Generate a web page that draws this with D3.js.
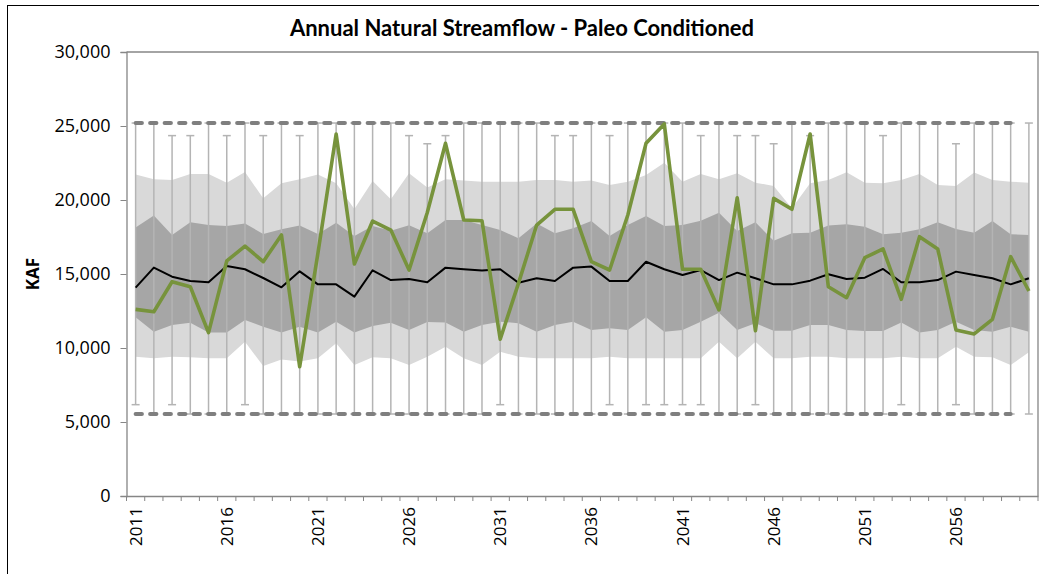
<!DOCTYPE html>
<html>
<head>
<meta charset="utf-8">
<script src="https://cdn.jsdelivr.net/npm/d3@7"></script>
<style>
  body { margin: 0; background: #fff; }
  svg { display: block; }
  text { font-family: "Open Sans", Lato, sans-serif; fill: #000; }
</style>
</head>
<body>
<svg id="chart" width="1039" height="574"></svg>
<script>
// years 2011 - 2060
let years = d3.range(2011, 2061);
let yearLabels = [2011, 2016, 2021, 2026, 2031, 2036, 2041, 2046, 2051, 2056];
let yTicks = [0, 5000, 10000, 15000, 20000, 25000, 30000];

// percentile bands, KAF
let lightUpper = [21730, 21400, 21350, 21760, 21760, 21170, 21890, 20110, 21130, 21400,
  21730, 21130, 19390, 21280, 20050, 21800, 20850, 21400, 21310, 21240,
  21240, 21240, 21350, 21350, 21240, 21310, 21010, 21240, 21690, 22520,
  21240, 21760, 21400, 21800, 21170, 20950, 19440, 21130, 21350, 21870,
  21170, 21130, 21350, 21760, 21010, 20950, 21850, 21350, 21240, 21170];
let darkUpper = [18150, 18960, 17640, 18490, 18310, 18240, 18420, 17700, 18020, 18270,
  17700, 18470, 17570, 18240, 17930, 18290, 17750, 18650, 18650, 18310,
  17970, 17410, 18420, 17750, 18090, 18580, 17570, 18310, 18920, 18240,
  18310, 18600, 19140, 17900, 18490, 17250, 17750, 17790, 18270, 18360,
  18200, 17680, 17790, 18020, 18490, 18040, 17790, 18580, 17680, 17640];
let median = [14080, 15430, 14820, 14530, 14440, 15540, 15320, 14730, 14100, 15180,
  14300, 14300, 13470, 15250, 14590, 14660, 14440, 15430, 15320, 15230,
  15320, 14410, 14710, 14530, 15430, 15500, 14530, 14530, 15830, 15320,
  14930, 15270, 14590, 15090, 14710, 14300, 14300, 14550, 14980, 14660,
  14750, 15340, 14440, 14440, 14590, 15160, 14930, 14710, 14300, 14710];
let darkLower = [12070, 11100, 11550, 11710, 11040, 11040, 11890, 11440, 11040, 11440,
  11040, 11780, 11040, 11490, 11710, 11220, 11760, 11730, 11100, 11550,
  11780, 11670, 11100, 11550, 11780, 11220, 11330, 11220, 12070, 11100,
  11220, 11780, 12390, 11220, 11670, 11170, 11170, 11550, 11550, 11220,
  11150, 11150, 11730, 11040, 11220, 11780, 11220, 11100, 11440, 11100];
let lightLower = [9410, 9300, 9410, 9370, 9300, 9300, 10430, 8780, 9230, 9080,
  9300, 10320, 8850, 9370, 9300, 8850, 9410, 10090, 9300, 8850,
  9750, 9410, 9300, 9300, 9300, 9300, 9410, 9300, 9300, 9300,
  9300, 9300, 10430, 9300, 10430, 9300, 9300, 9410, 9410, 9300,
  9300, 9300, 9410, 9300, 9300, 10090, 9410, 9370, 8850, 9710];

// one paleo trace
let trace = [12610, 12450, 14480, 14140, 11040, 15880, 16890, 15830, 17640, 8740,
  16400, 24460, 15680, 18580, 17970, 15270, 19150, 23830, 18650, 18600,
  10590, 14370, 18310, 19370, 19370, 15830, 15270, 18990, 23830, 25140,
  15320, 15320, 12570, 20150, 11170, 20110, 19370, 24460, 14140, 13400,
  16100, 16690, 13290, 17520, 16690, 11220, 10950, 11940, 16170, 13850];

// yearly max / min
let yearMax = [25200, 25200, 24350, 24350, 25200, 24350, 25200, 24350, 25200, 24350,
  25200, 25200, 25200, 25200, 25200, 24350, 23800, 24350, 25200, 25200,
  25200, 25200, 25200, 24350, 24350, 25200, 24350, 25200, 25200, 25200,
  25200, 24350, 25200, 24350, 24350, 23800, 25200, 24350, 25200, 25200,
  25200, 24350, 25200, 25200, 25200, 23800, 25200, 25200, 25200, 25200];
let yearMin = [6170, 5540, 6170, 5540, 5540, 5540, 6170, 5540, 5540, 5540,
  5540, 5540, 5540, 5540, 5540, 5540, 5540, 5540, 5540, 5540,
  6170, 5540, 5540, 5540, 5540, 5540, 6170, 5540, 6170, 6170,
  6170, 6170, 5540, 5540, 6170, 5540, 5540, 5540, 5540, 5540,
  5540, 5540, 6170, 5540, 5540, 6170, 5540, 5540, 5540, 5540];

// overall max / min, 2011 - 2059
let overallMax = years.slice(0, 49).map(() => 25200);
let overallMin = years.slice(0, 49).map(() => 5540);

let svg = d3.select('#chart');

// chart frame
svg.append('rect')
  .attr('x', 7.5).attr('y', 5.5)
  .attr('width', 1100).attr('height', 700)
  .attr('fill', 'none').attr('stroke', '#000').attr('stroke-width', 1);

let plotLeft = 126.5, plotRight = 1038, plotTop = 52, plotBottom = 496;

let x = d3.scaleBand().domain(years).range([plotLeft, plotRight]);
let cx = yr => x(yr) + x.bandwidth() / 2;
let y = d3.scaleLinear().domain([0, 30000]).range([plotBottom, plotTop]);

// plot border
svg.append('path')
  .attr('d', `M${plotLeft},${plotTop}H${plotRight}V${plotBottom}`)
  .attr('fill', 'none').attr('stroke', '#868686').attr('stroke-width', 1.3);

let band = (lo, hi) => d3.area()
  .x((d, i) => cx(years[i]))
  .y0((d, i) => y(lo[i]))
  .y1((d, i) => y(hi[i]))(years);

svg.append('path').attr('d', band(lightLower, lightUpper)).attr('fill', '#d9d9d9');
svg.append('path').attr('d', band(darkLower, darkUpper)).attr('fill', '#a6a6a6');

// whiskers
let wk = svg.append('g').attr('stroke', '#b4b4b4').attr('stroke-width', 1.5);
years.forEach((yr, i) => {
  let px = cx(yr);
  wk.append('line').attr('x1', px).attr('x2', px)
    .attr('y1', y(yearMin[i])).attr('y2', y(yearMax[i]));
  wk.append('line').attr('x1', px - 4).attr('x2', px + 4)
    .attr('y1', y(yearMax[i])).attr('y2', y(yearMax[i]));
  wk.append('line').attr('x1', px - 4).attr('x2', px + 4)
    .attr('y1', y(yearMin[i])).attr('y2', y(yearMin[i]));
});

let line = vals => d3.line()
  .x((d, i) => cx(years[i]))
  .y(d => y(d))(vals);

[overallMax, overallMin].forEach(vals => {
  svg.append('path').attr('d', line(vals))
    .attr('fill', 'none').attr('stroke', '#7f7f7f')
    .attr('stroke-width', 4).attr('stroke-linecap', 'round')
    .attr('stroke-dasharray', '6.3,8.2');
});

svg.append('path').attr('d', line(median))
  .attr('fill', 'none').attr('stroke', '#000').attr('stroke-width', 2)
  .attr('stroke-linejoin', 'round');

svg.append('path').attr('d', line(trace))
  .attr('fill', 'none').attr('stroke', '#77933c').attr('stroke-width', 3.6)
  .attr('stroke-linejoin', 'round');

// y axis
let yAxis = svg.append('g')
  .attr('transform', `translate(${plotLeft},0)`)
  .call(d3.axisLeft(y).tickValues(yTicks).tickSize(6).tickPadding(10)
    .tickFormat(d3.format(',')));
yAxis.select('.domain').attr('stroke', '#868686').attr('stroke-width', 1.3);
yAxis.selectAll('.tick line').attr('stroke', '#868686');
yAxis.selectAll('text').style('font-size', '18px');

// x axis
let xAxis = svg.append('g')
  .attr('transform', `translate(0,${plotBottom})`)
  .call(d3.axisBottom(x).tickValues(yearLabels).tickSize(0).tickSizeOuter(0));
xAxis.select('.domain').attr('stroke', '#868686').attr('stroke-width', 1.3);
xAxis.selectAll('text')
  .style('font-size', '17px')
  .style('text-anchor', 'end')
  .attr('x', -11).attr('y', 0).attr('dy', '0.36em')
  .attr('transform', 'rotate(-90)');

// year tick marks at band edges
xAxis.selectAll('.yr')
  .data(years.concat(['end']))
  .enter().append('line')
  .attr('x1', d => d === 'end' ? plotRight : x(d))
  .attr('x2', d => d === 'end' ? plotRight : x(d))
  .attr('y1', 0).attr('y2', 5)
  .attr('stroke', '#868686');

// titles
svg.append('text')
  .attr('x', 522).attr('y', 36)
  .attr('text-anchor', 'middle')
  .style('font-size', '22px').style('font-weight', 'bold')
  .style('font-family', 'Lato, sans-serif')
  .text('Annual Natural Streamflow - Paleo Conditioned');

svg.append('text')
  .attr('transform', `translate(39,${y(15000)}) rotate(-90)`)
  .attr('text-anchor', 'middle')
  .style('font-size', '17px').style('font-weight', 'bold')
  .text('KAF');
</script>
</body>
</html>
